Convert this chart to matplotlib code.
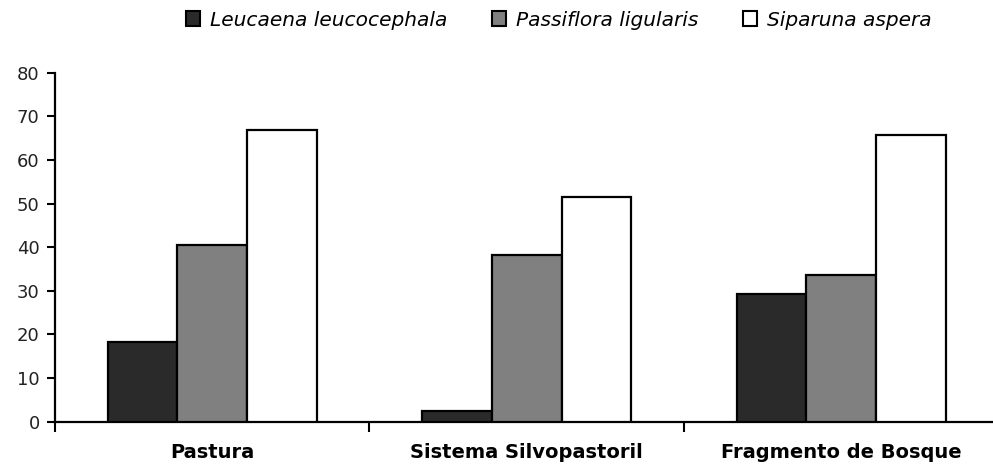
import matplotlib
matplotlib.use("Agg")
import matplotlib.pyplot as plt
import numpy as np
from matplotlib.patches import Patch

categories = ["Pastura", "Sistema Silvopastoril", "Fragmento de Bosque"]
series_names = ["Leucaena leucocephala", "Passiflora ligularis", "Siparuna aspera"]
leucaena = [18.3, 2.4, 29.3]
passiflora = [40.4, 38.3, 33.6]
siparuna = [66.8, 51.4, 65.7]
yticks = [0, 10, 20, 30, 40, 50, 60, 70, 80]

colors = ["#2a2a2a", "#808080", "#ffffff"]

plt.rcParams['font.family'] = ['DejaVu Sans']

fig = plt.figure(figsize=(9.93, 4.67), dpi=100)
W, H = 993, 467
left, right = 55, 998.5
bottom, top = 467 - 421.7, 467 - 72.7
ax = fig.add_axes([left / W, bottom / H, (right - left) / W, (top - bottom) / H])

centers = np.arange(len(categories)) + 0.5
bw = 0.222
data = [leucaena, passiflora, siparuna]
for i, (vals, c) in enumerate(zip(data, colors)):
    ax.bar(centers + (i - 1) * bw, vals, width=bw, color=c, edgecolor="black",
           linewidth=1.6, zorder=3)

ax.set_xlim(0, 3)
ax.set_ylim(0, 80)
ax.set_yticks(yticks)
ax.set_yticklabels([str(v) for v in yticks], fontsize=13, color="#222222")
ax.tick_params(axis="y", direction="out", length=6, width=1.5, pad=5)

ax.set_xticks([0, 1, 2, 3])
ax.set_xticklabels([])
ax.tick_params(axis="x", which="major", direction="out", length=7, width=1.5)
ax.set_xticks(centers, minor=True)
ax.set_xticklabels(categories, minor=True, fontsize=14, fontweight="bold")
ax.tick_params(axis="x", which="minor", length=0, pad=15)

for s in ["top", "right"]:
    ax.spines[s].set_visible(False)
for s in ["left", "bottom"]:
    ax.spines[s].set_linewidth(1.6)

handles = [Patch(facecolor=c, edgecolor="black", linewidth=1.5) for c in colors]
fig.legend(handles, series_names, loc="center", bbox_to_anchor=(559 / W, 1 - 20 / H),
           ncol=3, frameon=False, prop={"style": "italic", "size": 14.5},
           handlelength=0.7, handleheight=0.7, handletextpad=0.5, columnspacing=2.2)

fig.savefig("out.png", dpi=100)
